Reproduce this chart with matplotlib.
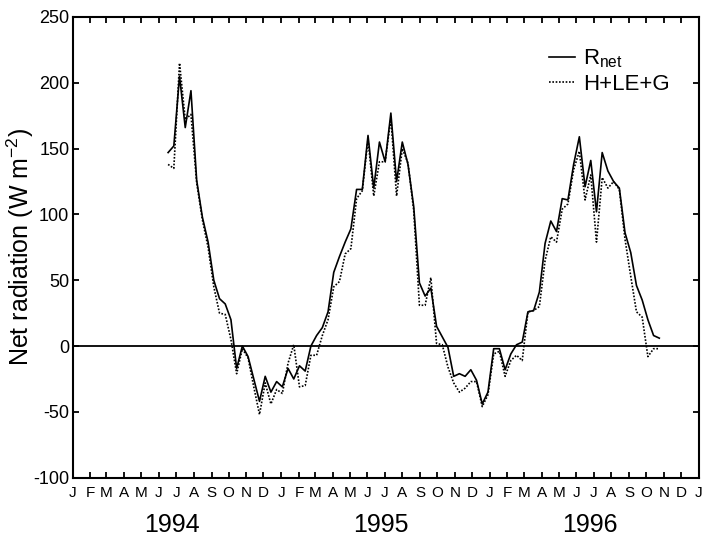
import numpy as np
import matplotlib
matplotlib.use("Agg")
import matplotlib.pyplot as plt
import matplotlib.dates as mdates
import matplotlib.transforms as mtransforms

plt.rcParams['font.family'] = ['Liberation Sans', 'DejaVu Sans']
plt.rcParams['mathtext.fontset'] = 'custom'
plt.rcParams['mathtext.rm'] = 'Liberation Sans'
plt.rcParams['axes.unicode_minus'] = False

# ---- data (10-day values) ----
start_date = '1994-06-17'
step_days = 10

rnet = [147, 152, 205, 166, 194, 126, 98, 79, 50, 36, 32, 20, -17, 0, -8, -25,
        -42, -23, -35, -27, -31, -17, -25, -15, -19, 0, 8, 14, 26, 56, 68, 79,
        89, 119, 119, 160, 120, 155, 140, 177, 125, 155, 138, 106, 48, 38, 44,
        15, 7, -1, -23, -21, -23, -18, -26, -44, -35, -2, -2, -18, -6, 1, 3,
        26, 27, 41, 78, 95, 87, 112, 111, 138, 159, 121, 141, 102, 147, 133,
        125, 120, 86, 71, 46, 35, 20, 8, 6]

hleg = [138, 135, 215, 172, 176, 124, 96, 75, 45, 25, 24, 5, -21, -2, -9, -31,
        -52, -28, -44, -33, -36, -13, 1, -31, -30, -7, -7, 8, 20, 45, 49, 70,
        74, 112, 118, 157, 114, 140, 140, 173, 114, 150, 139, 103, 31, 31, 52,
        2, 1, -16, -28, -35, -32, -27, -27, -46, -37, -6, -4, -23, -11, -7, -11,
        26, 27, 30, 65, 83, 79, 104, 108, 134, 148, 111, 130, 79, 128, 120,
        125, 119, 81, 53, 26, 22, -8, -2, -2]

month_labels = list("JFMAMJJASOND") * 3 + ["J"]
years = ["1994", "1995", "1996"]
year_label_dates = ['1994-06-24', '1995-06-24', '1996-06-24']
yticks = [-100, -50, 0, 50, 100, 150, 200, 250]
series_names = [r"R$_{\mathregular{net}}$", "H+LE+G"]

dates = np.datetime64(start_date) + step_days * np.arange(len(rnet))

# ---- figure ----
fig = plt.figure(figsize=(7.04, 5.36), dpi=100)
ax = fig.add_axes([0.1033, 0.1088, 0.8892, 0.8595])

ax.axhline(0, color='black', lw=1.3, zorder=1)
ax.plot(dates, rnet, color='black', lw=1.2, ls='-', label=series_names[0], zorder=3)
ax.plot(dates, hleg, color='black', lw=1.2, ls=(0, (1, 1)), label=series_names[1], zorder=2)

ax.set_xlim(np.datetime64('1994-01-01'), np.datetime64('1997-01-01'))
ax.set_ylim(-100, 250)
ax.set_yticks(yticks)
ax.set_yticklabels([str(v) for v in yticks])

ax.xaxis.set_major_locator(mdates.MonthLocator())
ax.set_xticks(ax.get_xticks())
ax.set_xticklabels(month_labels)

for s in ax.spines.values():
    s.set_linewidth(1.5)

ax.tick_params(axis='both', which='major', direction='in', length=4.5, width=1.3,
               top=True, right=True)
ax.tick_params(axis='y', labelsize=13, pad=2.5)
ax.tick_params(axis='x', labelsize=11, pad=6)

ax.set_ylabel("Net radiation (W m$^{\\mathregular{-2}}$)", fontsize=18)
ax.yaxis.set_label_coords(-0.058, 0.5)

trans = mtransforms.blended_transform_factory(ax.transData, ax.transAxes)
for yr, d in zip(years, year_label_dates):
    ax.text(mdates.date2num(np.datetime64(d)), -0.102, yr, transform=trans,
            ha='center', va='center', fontsize=18)

leg = ax.legend(loc='upper left', bbox_to_anchor=(0.761, 0.933), frameon=False,
                fontsize=16, handlelength=1.17, handletextpad=0.36,
                labelspacing=0.15, borderpad=0, borderaxespad=0)

fig.savefig("out.png", dpi=100)
